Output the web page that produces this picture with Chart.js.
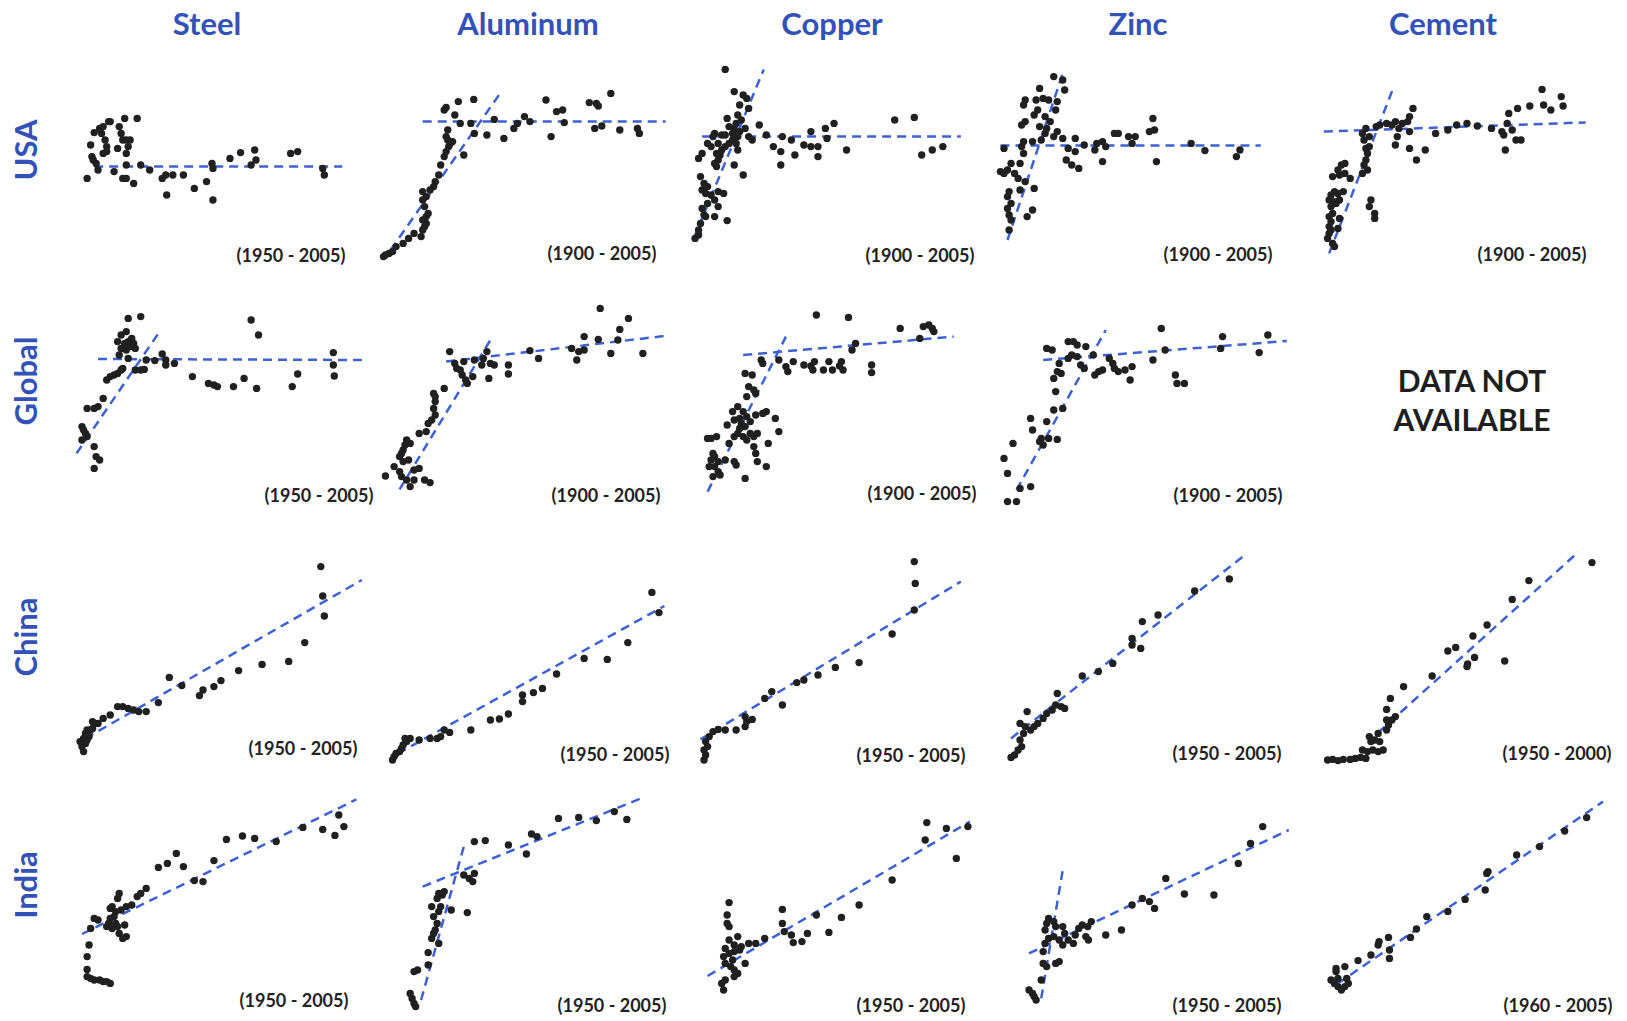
<!DOCTYPE html>
<html>
<head>
<meta charset="utf-8">
<script src="https://cdn.jsdelivr.net/npm/chart.js@4.4.1/dist/chart.umd.min.js"></script>
<style>
  html, body { margin: 0; padding: 0; background: #fff; }
  #page { position: relative; width: 1627px; height: 1021px; overflow: hidden; font-family: Lato, "Open Sans", sans-serif; }
  #page canvas { position: absolute; }
  .colTitle, .rowTitle { position: absolute; color: #3352b8; font-weight: bold; font-size: 31px; white-space: nowrap; }
  .colTitle { transform: translate(-50%, -50%); }
  .rowTitle { transform: translate(-50%, -50%) rotate(-90deg); }
  .years { position: absolute; transform: translate(-50%, -50%); font-weight: bold; font-size: 18px; color: #222; white-space: nowrap; }
  .na { position: absolute; transform: translate(-50%, -50%); font-weight: bold; font-size: 30px; color: #1e1e1e; white-space: nowrap; }
</style>
</head>
<body>
<div id="page"></div>
<script>
// grid labels
const materials = ['Steel', 'Aluminum', 'Copper', 'Zinc', 'Cement'];
const regions = ['USA', 'Global', 'China', 'India'];
const yearRanges = [
  ['(1950 - 2005)', '(1900 - 2005)', '(1900 - 2005)', '(1900 - 2005)', '(1900 - 2005)'],
  ['(1950 - 2005)', '(1900 - 2005)', '(1900 - 2005)', '(1900 - 2005)', null],
  ['(1950 - 2005)', '(1950 - 2005)', '(1950 - 2005)', '(1950 - 2005)', '(1950 - 2000)'],
  ['(1950 - 2005)', '(1950 - 2005)', '(1950 - 2005)', '(1950 - 2005)', '(1960 - 2005)']
];
const missingText = ['DATA NOT', 'AVAILABLE'];

// ---- USA ----
const steelUSA = [[7.2,41.8],[8.3,58.5],[8.7,52.7],[9.1,51],[9.4,64.7],[10,49.3],[10.6,46],[11.1,66.8],[11.7,64.3],[12.2,67.7],[12.8,61],[12.2,54.3],[13.3,55.2],[13.9,70.2],[14.4,70.2],[13.3,57.7],[16.7,56.8],[17.2,67.7],[17.8,64.3],[18.3,61],[18.9,71.8],[19.4,61],[20,57.7],[19.4,54.3],[20.6,61],[22.8,71.8],[15.6,45.2],[18.3,41.8],[19.4,41.8],[19.4,48.5],[21.7,39.3],[23.9,48.5],[26.7,46],[30.6,41.8],[31.7,43.5],[33.9,43.5],[32,33.5],[37.2,43.5],[40.6,36.8],[44.4,40.2],[46.1,49.3],[46.4,46.8],[46.4,31],[51.7,51.8],[55,54.7],[58.3,48.5],[59.4,56],[59.8,51],[70.6,54.3],[72.8,55.2],[80.6,46.8],[81.1,43.5]];
const steelUSAFit = [[9.4,47.7],[86.7,47.7]];

const alUSA = [[1.1,2.7],[1.7,3.5],[2.8,4.3],[3.9,5.2],[5,7.7],[7.2,9.3],[8.9,11.8],[10.6,14.3],[12.8,12.7],[13.3,16],[13.9,17.7],[14.4,19.3],[13.3,21],[14.4,22.7],[15,24.3],[13.9,27.7],[13.3,31],[14.4,32.7],[15.6,36],[13.3,35.2],[16.7,37.7],[17.2,40.2],[18.3,43.5],[18.9,48.5],[20,52.7],[20.6,55.2],[21.4,57.7],[21.9,59.3],[21.1,61],[20.6,62.7],[22.6,60.2],[26.1,53.5],[21.1,66],[20,76],[20.6,77.3],[23.3,73.5],[24.4,80.2],[25,69.3],[28.3,69.3],[29.2,81.3],[29.4,64.3],[33.3,63.5],[35.6,71.3],[38.6,61.8],[41.7,66.8],[42.8,69.3],[45,72.7],[46.7,70.2],[51.7,81],[53.3,62.7],[55,75.2],[56.9,76],[57.4,69.7],[65.2,79.7],[67.4,79.3],[68,78],[71.9,84.3],[66.9,66.8],[69.1,68],[74.7,66],[80.2,66.8],[80.8,64.3]];
const alUSAFitSteep = [[3.3,6],[37.8,85.2]];
const alUSAFitFlat = [[13.3,70.3],[89,70.3]];

const cuUSA = [[14.4,96.3],[17.2,85.2],[20,83.5],[21.1,81.8],[18.9,78.5],[21.7,76.8],[18.3,73.5],[15,71.8],[15.6,67.7],[17.8,69.3],[19.4,71],[20.6,66.8],[17.2,66.8],[18.9,65.2],[16.7,64.3],[14.4,63.5],[13.3,63.5],[11.1,64.3],[10.6,62.7],[12.2,59.3],[10,57.7],[8.9,59.3],[11.7,54.3],[12.8,53.5],[12.2,51],[11.1,49.3],[11.7,47.7],[13.3,56],[14.4,57.7],[15.6,59.3],[16.7,61],[18.3,62.7],[17.8,59.3],[18.3,56],[17.2,48.5],[20,43.5],[7.2,54.3],[6.1,51.8],[6.7,42.7],[7.8,39.3],[8.9,37.7],[7.2,36],[8.3,34.3],[10,33.5],[12.2,35.2],[13.9,34.3],[11.1,31],[8.9,29.3],[12.2,27.7],[7.2,26.8],[7.8,23.5],[8.3,22.7],[11.1,22.7],[15,20.7],[6.7,19.3],[6.1,16],[6.1,13.5],[5,11.8],[21.7,62.7],[22.8,61],[25,68.5],[27.2,63.5],[29.4,57.7],[31.7,55.2],[32.2,62.7],[31.7,48.5],[35,61],[36.1,53.5],[38.9,58.5],[41.1,57.7],[43.3,57.7],[43.3,52.7],[41.1,65.2],[45.6,66.8],[46.1,61.8],[48.3,69.3],[52.2,56],[67.2,71],[73.3,72.3],[75.6,53.5],[78.9,56],[82.2,57.7]];
const cuUSAFitSteep = [[4.4,11],[26.4,96.3]];
const cuUSAFitFlat = [[7.2,62.7],[87.8,62.7]];

const znUSA = [[18.3,92.7],[21.1,91],[21.7,86],[13.9,86.8],[9.4,81],[8.9,78.5],[12.8,81],[15,81.8],[16.7,81],[19.4,80.2],[18.9,76],[13.3,76],[12.2,73.5],[9.4,70.2],[8.3,68.5],[15.6,72.7],[17.2,70.2],[16.1,66.8],[13.9,67.7],[15.6,64.3],[18.3,62.7],[14.4,61],[11.7,60.2],[8.9,60.2],[19.4,65.2],[21.1,61.8],[2.8,56.8],[8.3,57.7],[8.9,54.3],[7.8,49.3],[5,49.3],[3.9,46],[1.7,45.2],[2.8,44.3],[6.1,44.3],[7.2,41.8],[9.4,40.2],[12.2,36.8],[4.4,35.2],[7.8,36],[3.9,32.7],[5,29.3],[3.9,26.8],[4.4,23.5],[5,21],[11.7,26],[10,22.7],[4.4,16],[22.2,51],[23.9,48.5],[26.1,46.8],[22.8,56.8],[25,55.2],[25,61.8],[27.8,58.5],[31.1,56],[31.7,59.3],[33.5,60.2],[34.5,57.7],[33.5,50.2],[37.2,64.3],[38.4,64.3],[41.6,62.7],[42.7,59.3],[43.7,62.7],[48.1,65.2],[49.7,66],[49.2,71.8],[50.3,50.2],[61.1,59.3],[65.4,55.7],[75.2,52.7],[76.3,56]];
const znUSAFitSteep = [[3.9,11],[21.1,94.3]];
const znUSAFitFlat = [[1.7,58.3],[82.8,58.3]];

const cemUSA = [[5.6,11.8],[6.1,14.3],[6.7,16],[7.2,9.3],[7.8,7.7],[6.1,17.7],[6.7,20.2],[6.1,22.7],[7.2,24.3],[6.7,27.7],[7.8,30.2],[6.1,31],[6.7,33.5],[7.8,35.2],[8.9,34.3],[10.6,35.2],[9.4,31],[8.3,29.3],[9.4,21.8],[8.9,16.8],[7.2,42.7],[8.9,46],[10,48.5],[11.1,49.3],[11.1,44.3],[9.4,43.5],[12.8,41.8],[16.7,44.3],[18.3,46],[17.2,48.5],[19.4,31],[18.9,27.7],[20.6,24.3],[20.6,21.8],[17.8,51],[18.3,54.3],[17.8,56.8],[18.9,57.7],[17.2,61],[16.7,64.3],[17.8,66.8],[18.9,62.7],[21.1,67.7],[22.2,68.5],[24.4,69.3],[26.1,68.5],[27.2,70.2],[28.3,66.8],[29.4,69.3],[31.1,70.2],[31.7,72.7],[32.8,76.8],[31.7,65.2],[27.8,62.7],[27.2,58.5],[31.7,56.8],[33.9,51],[36.7,56],[40,64.3],[43.9,66],[46.7,68.5],[50,69.3],[53.3,68],[57.8,66.8],[61.1,65.2],[61.7,63.5],[62.8,69.3],[63.3,74.3],[64.4,66],[66.1,76.8],[65.6,61],[67.2,61],[62.2,56],[70,78],[73.9,86.3],[74.4,78.5],[76.7,76],[80,82.7],[80.6,78]];
const cemUSAFitSteep = [[6.1,4.3],[26.7,87.7]];
const cemUSAFitFlat = [[4.4,65.2],[87.8,69.8]];

// ---- Global ----
const steelGlobal = [[5.6,39.2],[6.1,37.5],[6.7,35.8],[7.2,34.2],[5.6,32.5],[9.4,29.2],[10,24.2],[11.1,22.5],[9.4,18.3],[7.2,48.3],[9.4,48.3],[10.6,49.2],[12.2,53.3],[13.3,62.5],[14.4,64.2],[15.6,65],[16.7,65.8],[17.8,67.5],[18.3,68.3],[17.2,75],[17.8,78.3],[16.7,81.7],[17.8,85],[19.4,86.7],[20,93.3],[23.9,94.2],[18.9,80.8],[20,81.7],[21.1,83.3],[21.7,80.8],[22.2,78.3],[20.6,79.2],[19.4,77.5],[20,73.3],[22.2,67.5],[23.9,67.5],[25,67.8],[25.6,72.5],[28.3,72.2],[30.6,75.5],[31.7,72.5],[31.7,70],[34.4,70.8],[40,64.2],[45,60.8],[46.7,60],[47.8,59.2],[52.8,59.2],[56.1,63.3],[60,58.3],[58.3,92.5],[60.6,85],[71.1,59.2],[72.8,65.5],[83.9,76.2],[83.9,70],[84.2,64.5]];
const steelGlobalFitSteep = [[3.9,25.8],[29.4,85.8]];
const steelGlobalFitFlat = [[10.6,73],[92.8,72.5]];

const alGlobal = [[1.7,14.5],[4.4,19.2],[6.1,16.7],[6.7,14.2],[8.3,12.5],[9.4,9.2],[10.6,12.5],[10.6,17.5],[12.2,18.3],[13.9,12.5],[15.6,11.2],[6.1,24.2],[6.7,25.8],[7.2,27.5],[7.8,30],[8.3,32.5],[7.2,21.7],[8.9,22.5],[9.4,30.8],[12.2,35.8],[14.4,36.7],[15,40.8],[16.1,42.5],[17.2,45],[16.7,48.3],[17.2,51.7],[17.2,54.2],[16.7,55.8],[20,58.3],[21.7,76.7],[23.3,70.8],[23.9,68.3],[25,67.5],[26.1,71.7],[25.6,65],[26.7,62.5],[27.2,60.8],[28.9,64.2],[29.4,72.5],[32.2,73.3],[33.3,76.7],[31.7,70],[34.4,70.8],[35.6,70],[33.9,63.3],[40,70],[40,65.5],[46.7,77.2],[49.4,73.3],[61.9,103.3],[68.6,98.3],[77.4,93.3],[74.7,87.8],[63.6,84.2],[68,82.8],[74.1,82.5],[59.7,78.3],[61.9,76.7],[63.6,77.5],[61.3,72.5],[71.9,75.8],[81.9,75.8]];
const alGlobalFitSteep = [[6.1,7.8],[34.4,82.5]];
const alGlobalFitFlat = [[20.6,71.7],[88.6,84.5]];

const cuGlobal = [[8.9,33.3],[10,33.3],[11.7,34.2],[10.6,25.8],[11.1,24.2],[10,22.5],[12.2,21.7],[9.4,19.2],[11.1,19.2],[12.2,16.7],[12.8,15],[10.6,14.2],[14.4,22.5],[17.2,21.7],[17.8,20],[20.6,13.3],[15.6,30.8],[17.2,34.2],[18.3,35.8],[18.9,38.3],[19.4,40.8],[20.6,39.2],[20,34.2],[21.1,32.5],[22.2,35.8],[23.3,34.2],[24.4,35.8],[26.1,45.8],[27.2,46.7],[23.9,45],[21.1,44.2],[22.2,41.7],[18.9,43.3],[17.2,42.5],[15,40],[16.7,46.7],[18.3,49.2],[20,46.7],[30,43.3],[31.1,36.7],[27.8,30.8],[23.3,29.2],[23.9,25.8],[24.4,21.7],[27.2,19.2],[21.1,54.2],[21.7,59.2],[23.3,57.5],[23.9,55.8],[20.6,65.8],[22.8,65],[25.6,72.5],[26.1,70.8],[31.1,72.5],[33.3,69.2],[33.9,66.7],[35.6,71.7],[38.9,70],[41.1,69.5],[41.7,67.5],[42.2,71.7],[45,67.5],[46.7,71.7],[47.8,67.5],[50,69.5],[51.1,67.5],[50.6,71.7],[60,70],[60,66.2],[53.9,77.5],[55,80.8],[42.8,95],[52.8,93.8],[68.9,88.3],[75,83.3],[76.1,89.2],[77.8,90],[78.9,88.3],[79.4,86.7]];
const cuGlobalFitSteep = [[8.9,6.7],[33.3,84.2]];
const cuGlobalFitFlat = [[20,75],[85.6,84.2]];

const znGlobal = [[3.9,1.7],[6.7,1.7],[3.9,15.8],[2.8,23.3],[5.6,30.8],[7.8,8.3],[11.1,9.2],[11.1,43.3],[11.7,37.5],[14.4,33.3],[15,30],[13.9,31.7],[16.7,33.3],[19.4,32.8],[16.1,41.7],[18.3,47.5],[21.1,48.3],[18.9,56.7],[18.3,63.3],[19.4,66.7],[20.6,65.8],[16.1,78.3],[17.8,77.5],[20,70.8],[22.8,73.3],[23.9,75],[25.6,74.2],[22.8,81.7],[24.4,81.7],[25.6,80],[28.3,79.2],[26.7,70],[27.8,68.3],[31.1,65],[30.6,75],[32.3,66.7],[33.5,67.5],[35.6,73.3],[36.7,70.8],[37.2,68.3],[38.4,66.7],[40.5,67.5],[42.7,69.2],[42.1,62.5],[49.2,72.5],[51.8,88.3],[53,77.5],[56.2,65],[56.7,60.8],[59,60.8],[70.9,84.2],[70.3,78.3],[82.3,76.2],[85,85]];
const znGlobalFitSteep = [[6.7,7.5],[34.5,87.5]];
const znGlobalFitFlat = [[15,72.5],[90.9,82]];

// ---- China ----
const steelChina = [[6.1,6.7],[5.6,9.2],[6.7,10.8],[5,11.7],[7.2,12.5],[6.1,13.3],[7.8,14.2],[6.7,15.8],[8.3,17.5],[7.2,17.5],[8.9,18.3],[9.4,20.8],[10.6,20.8],[8.9,21.7],[12.2,23.3],[14.4,25],[16.7,29.2],[18.3,29.2],[20,28.3],[21.7,27.5],[23.3,26.7],[25.6,26.7],[29.4,31.2],[32.8,43.8],[36.7,39.7],[42.2,34.7],[43.3,37.5],[46.7,39.2],[48.9,42.2],[54.4,47.2],[61.7,50.3],[70,51.8],[75,61.2],[80,99.2],[80.6,84.5],[81.1,74.5]];
const steelChinaFit = [[6.7,13.3],[92.8,92.5]];

const alChina = [[3.9,2.5],[4.4,4.2],[5,5.8],[6.1,6.7],[6.7,8.3],[7.2,10],[8.3,11.7],[7.8,13.3],[9.4,13.3],[12.2,12.5],[15.6,13.3],[17.8,13.3],[18.9,14.2],[20,17.5],[21.7,16.3],[28.3,17.5],[34.4,22.5],[37.2,23],[40,25.5],[44.4,31.7],[44.4,35],[47.8,36.2],[50.6,38.3],[55,45.5],[63.6,53.3],[70.8,52.8],[77.2,61.2],[82.8,102.5],[84.7,86.3],[86.9,76.2]];
const alChinaFit = [[5.6,5.8],[88.6,79.5]];

const cuChina = [[7.8,2.5],[8.3,5],[7.8,7.5],[8.9,9.2],[8.3,11.7],[9.4,14.2],[10.6,16.7],[12.2,17.8],[14.4,17.5],[17.8,17.5],[20.6,19.2],[21.1,21.7],[22.8,22.8],[20.6,24.2],[26.7,33.3],[28.9,36.7],[32.2,30],[36.7,41.2],[38.9,42.5],[43.3,45],[48.7,48.8],[56.1,51.2],[66.4,65.5],[73.3,101.7],[73.6,90.8],[73.3,77.5]];
const cuChinaFit = [[6.7,12.8],[87.8,91.7]];

const znChina = [[5,3.8],[6.1,5],[7.2,7.5],[8.3,9.2],[7.8,12.5],[8.9,15.8],[9.4,19.2],[7.8,20.8],[10,26.7],[11.1,17.5],[12.2,19.2],[13.3,20.8],[15,23.3],[16.1,25.8],[17.8,27.5],[18.9,30],[19.4,35.8],[20.6,29.2],[21.7,28.3],[27.2,44.5],[32.2,46.7],[36.7,50.8],[42.7,60],[42.7,63.3],[45.4,58.3],[45.9,71.7],[50.8,75],[62.2,87],[73,93],[84.5,102]];
const znChinaFit = [[5,13.3],[78.5,105.8]];

const cemChina = [[5.6,2.5],[7.2,2.8],[8.9,2.2],[10.6,2.8],[12.8,2.8],[14.4,3.3],[16.1,3.8],[17.8,3.3],[16.7,7.5],[18.3,6.7],[20,7.5],[21.7,6.7],[23.3,7.5],[19.4,11.7],[18.9,14.2],[20.6,12.5],[21.7,15.8],[22.2,11.7],[24.4,17.5],[25,20],[26.1,22.5],[27.2,24.2],[24.4,22.5],[24.4,27.8],[25.6,33.3],[29.8,39.2],[38.9,44.5],[43.9,57],[46.4,58.8],[50,49.2],[50.2,50.5],[52.4,53.8],[51.9,64.5],[56.4,70],[62,52],[64.4,82.8],[69.7,92.2],[89.8,101.2]];
const cemChinaFit = [[21.7,16.2],[85.6,106.7]];

// ---- India ----
const steelIndia = [[7.2,16.7],[8.3,15.8],[9.4,15],[11.1,15],[12.2,14.2],[13.3,14.2],[14.4,13.3],[7.2,20.3],[7.2,26.7],[7.8,32.5],[8.3,40.8],[9.4,45.8],[10.6,45],[13.3,41.7],[13.9,43.3],[14.4,45.8],[14.4,50.8],[15,51.7],[16.1,49.2],[15.6,46.7],[16.1,43.3],[16.7,41.7],[15,40.8],[17.2,38.3],[18.3,35.8],[19.4,36.7],[18.9,42.5],[16.7,55.8],[17.2,58.3],[17.8,50],[19.4,51.7],[21.1,52.5],[22.8,56.7],[23.9,58.3],[25.6,60.8],[29.4,71.3],[32.2,73.3],[35,78.3],[37.2,71.7],[40.6,64.7],[43.3,64.2],[46.7,74.7],[50.6,85.3],[55.6,87],[59.4,85.8],[66.1,84.2],[74.4,91.3],[80.6,90.3],[85.6,97.5],[84.4,87.3],[87.2,91.7]];
const steelIndiaFit = [[5.6,38],[91.1,105.3]];

const alIndia = [[9.4,8.3],[10,5.8],[10.6,3.3],[11.1,1.7],[10.6,19.2],[11.7,20],[15,22.5],[15,28.7],[16.1,35.8],[16.7,38.3],[17.2,40],[18.3,33.3],[17.8,43.3],[16.1,51.7],[16.7,46.7],[18.3,49.2],[18.9,51.7],[17.8,55.8],[19.4,57.5],[20,59.2],[18.3,58.3],[22.2,50],[27.2,48.7],[26.1,67.5],[27.8,65.8],[28.9,64.2],[29.4,68.3],[29.4,84.2],[32.8,84.7],[40,82.5],[45.6,78],[47.2,88],[48.9,86.7],[50,104.7],[52.8,103],[55.6,95.8],[61.9,96.3],[67.4,94.7],[73,99.2],[76.9,95.3]];
const alIndiaFitSteep = [[12.8,5],[26.1,81.7]];
const alIndiaFitFlat = [[13.3,61.7],[81.3,105.8]];

const cuIndia = [[13.9,10],[13.3,13.3],[14.4,15],[17.2,16.7],[18.3,18.3],[17.2,20],[16.1,21.7],[20.6,23.3],[14.4,23.3],[16.7,25],[13.9,26.7],[15.6,28.3],[17.2,29.2],[18.9,30],[14.4,30.8],[17.2,32.5],[19.4,31.7],[21.7,33.3],[23.9,33.3],[15.6,35],[18.3,36.7],[15.6,41.7],[15,43.3],[15,47.5],[15.6,53.7],[26.7,35.8],[32.2,50.3],[32.2,43.3],[32.8,39.2],[35,37.5],[35.6,33.7],[38.3,34.2],[40,38.3],[42.8,47.5],[46.7,38.8],[50.6,46.3],[56.1,52.5],[66.4,65],[77.2,93.7],[76.7,85],[83.3,90.8],[86.4,75.8],[90,91.7]];
const cuIndiaFit = [[8.9,17],[90.6,94.2]];

const znIndia = [[10.6,10],[11.7,8.3],[12.8,5],[12.2,6.7],[14.4,15],[15,23.3],[16.1,21.7],[18.9,23.3],[20,24.2],[15,29.2],[15.6,33.3],[16.7,35.8],[18.3,36.7],[20,35],[21.1,32.5],[21.7,38.3],[22.8,35],[24.4,33.3],[25,37.5],[26.1,40.8],[27.2,42.5],[28.3,36.7],[28.9,41.7],[15.6,40],[16.1,43.3],[16.7,45.8],[18.3,44.2],[18.9,41.7],[21.1,41.7],[30,44.2],[29.1,35],[34.5,37.5],[39.4,40],[42.7,52.5],[45.9,55.8],[48.1,54.2],[49.7,50.8],[53.2,65.8],[59,58],[68.2,57.5],[75.8,73.3],[79.6,83.3],[83.4,91.7]];
const znIndiaFitSteep = [[14.4,5.8],[21.1,70]];
const znIndiaFitFlat = [[10.6,28.3],[91.5,90]];

const cemIndia = [[6.7,15],[7.8,13.3],[8.9,11.7],[10,10],[11.1,11.7],[12.2,13.3],[11.7,15.8],[8.9,15.8],[8.3,20.8],[11.1,21.7],[8.3,19.2],[15.3,24.7],[19.4,27.5],[21.7,32.5],[22,34.2],[25,36.3],[25.3,30],[25.3,25.8],[32,36.3],[33.9,40.5],[37.2,46.7],[43.9,49.3],[49.4,55.3],[55.8,60],[56.3,68.3],[56.7,69.2],[65.8,77.5],[73.1,81.7],[81.1,89.5],[88.1,96.2]];
const cemIndiaFit = [[8.9,13.3],[93.3,104.2]];

// panels: [row, col, points, fits]
const panels = [
  [0, 0, steelUSA, [steelUSAFit]],
  [0, 1, alUSA, [alUSAFitSteep, alUSAFitFlat]],
  [0, 2, cuUSA, [cuUSAFitSteep, cuUSAFitFlat]],
  [0, 3, znUSA, [znUSAFitSteep, znUSAFitFlat]],
  [0, 4, cemUSA, [cemUSAFitSteep, cemUSAFitFlat]],
  [1, 0, steelGlobal, [steelGlobalFitSteep, steelGlobalFitFlat]],
  [1, 1, alGlobal, [alGlobalFitSteep, alGlobalFitFlat]],
  [1, 2, cuGlobal, [cuGlobalFitSteep, cuGlobalFitFlat]],
  [1, 3, znGlobal, [znGlobalFitSteep, znGlobalFitFlat]],
  [2, 0, steelChina, [steelChinaFit]],
  [2, 1, alChina, [alChinaFit]],
  [2, 2, cuChina, [cuChinaFit]],
  [2, 3, znChina, [znChinaFit]],
  [2, 4, cemChina, [cemChinaFit]],
  [3, 0, steelIndia, [steelIndiaFit]],
  [3, 1, alIndia, [alIndiaFitSteep, alIndiaFitFlat]],
  [3, 2, cuIndia, [cuIndiaFit]],
  [3, 3, znIndia, [znIndiaFitSteep, znIndiaFitFlat]],
  [3, 4, cemIndia, [cemIndiaFit]]
];

// layout (page pixels)
const BOX_H = 200, PAD = 16;
const colLeft = [64, 380, 679, 995, 1310];
const colWidth = [321, 321, 321, 321, 314];
const rowBottom = [262, 505, 765, 1010];
const colTitleX = [207, 528, 832, 1138, 1443];
const rowTitleY = [150, 381, 637, 885];
const yearPos = [
  [[291,255],[602,253],[920,255],[1218,254],[1532,254]],
  [[319,495],[606,495],[922,493],[1228,495],null],
  [[303,748],[615,754],[911,755],[1227,753],[1557,753]],
  [[294,1000],[612,1005],[911,1005],[1227,1005],[1558,1005]]
];

const page = document.getElementById('page');

function addText(cls, text, x, y) {
  const d = document.createElement('div');
  d.className = cls;
  d.textContent = text;
  d.style.left = x + 'px';
  d.style.top = y + 'px';
  page.appendChild(d);
}

materials.forEach((m, i) => addText('colTitle', m, colTitleX[i], 23));
regions.forEach((r, i) => addText('rowTitle', r, 25, rowTitleY[i]));
yearRanges.forEach((row, r) => row.forEach((t, c) => {
  if (t) addText('years', t, yearPos[r][c][0], yearPos[r][c][1]);
}));
addText('na', missingText[0], 1472, 380);
addText('na', missingText[1], 1472, 419);

function toXY(arr) {
  return arr.map(p => ({ x: p[0], y: p[1] }));
}

panels.forEach(([row, col, pts, fits]) => {
  const cv = document.createElement('canvas');
  cv.width = colWidth[col] + 2 * PAD;
  cv.height = BOX_H + 2 * PAD;
  cv.style.left = (colLeft[col] - PAD) + 'px';
  cv.style.top = (rowBottom[row] - BOX_H - PAD) + 'px';
  page.appendChild(cv);

  const datasets = [{
    data: toXY(pts),
    pointRadius: 3.7,
    pointBackgroundColor: '#202020',
    pointBorderWidth: 0,
    clip: false
  }];
  fits.forEach(f => datasets.push({
    data: toXY(f),
    showLine: true,
    borderColor: '#3d61d0',
    borderWidth: 2.5,
    borderDash: [9, 6],
    pointRadius: 0,
    fill: false,
    clip: false
  }));

  new Chart(cv, {
    type: 'scatter',
    data: { datasets: datasets },
    options: {
      responsive: false,
      animation: false,
      events: [],
      layout: { padding: PAD },
      plugins: { legend: { display: false }, tooltip: { enabled: false } },
      scales: {
        x: { type: 'linear', display: false, min: 0, max: 100 },
        y: { type: 'linear', display: false, min: 0, max: 100 }
      }
    }
  });
});
</script>
</body>
</html>
